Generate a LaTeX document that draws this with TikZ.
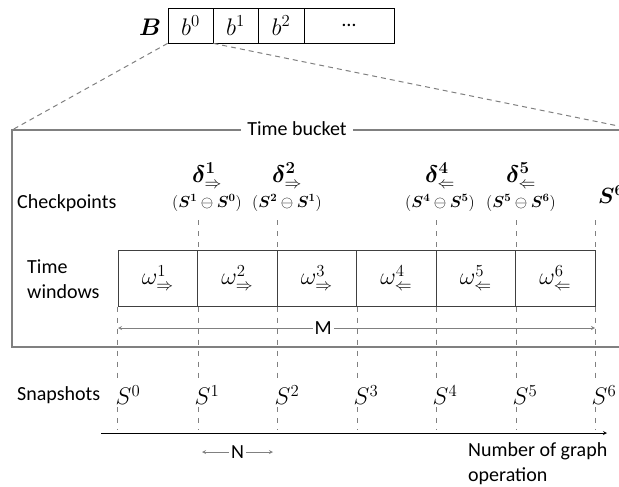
\documentclass[tikz,border=0pt]{standalone}
\usepackage{fix-cm}
\usepackage{amsmath}
\usepackage{bm}
\usepackage{fontspec}
\setmainfont{Carlito}
\definecolor{linegray}{RGB}{128,128,128}
\definecolor{boxgray}{RGB}{64,64,64}
\begin{document}
\begin{tikzpicture}
[x=1pt,y=-1pt,
  every node/.style={font=\fontsize{20}{24}\selectfont},
  mathbig/.style={font=\fontsize{24}{28}\selectfont},
  bucketcell/.style={draw,line width=0.8pt,minimum height=35pt,inner sep=0pt,mathbig},
  wincell/.style={draw=boxgray,line width=1pt,minimum width=79.5pt,minimum height=56pt,inner sep=0pt,mathbig},
  zoomline/.style={linegray,line width=1pt,dash pattern=on 5pt off 4pt},
  tickline/.style={linegray,line width=0.8pt,dash pattern=on 5pt off 6pt},
  bucketline/.style={linegray,line width=1.2pt},
  spanarrow/.style={<->,>=stealth,linegray,line width=0.8pt},
  axisarrow/.style={->,>=stealth,line width=0.8pt},
  cpdecorate/.style={align=center,inner sep=1pt},
  snapdecorate/.style={inner sep=2pt,mathbig}]
\useasboundingbox (0,0) rectangle (619,487);
\clip (0,0) rectangle (619,487);
% bucket array
\node (B) at (150,27) [mathbig] {$\bm{B}$};
\node (b0) at (190.5,25.5) [bucketcell,minimum width=45pt] {$b^{0}$};
\node (b1) at (235.5,25.5) [bucketcell,minimum width=45pt] {$b^{1}$};
\node (b2) at (281,25.5) [bucketcell,minimum width=46pt] {$b^{2}$};
\node (bdots) at (349,25.5) [bucketcell,minimum width=90pt,font=\fontsize{20}{24}\selectfont] {\ldots};
% time bucket frame
\coordinate (bk-nw) at (12,130);
\coordinate (bk-se) at (638,347);
\draw[bucketline] (bk-nw) rectangle (bk-se);
\node (bucket) at (297,129) [fill=white,inner xsep=6pt,inner ysep=0pt] {Time bucket};
\draw[zoomline] (b0.south west) -- (bk-nw);
\draw[zoomline] (b0.south east) -- (bk-nw -| bk-se);
% row labels
\node (checkpoints) at (17,203) [anchor=west,inner sep=0pt] {Checkpoints};
\node (windows) at (27,279) [anchor=west,align=left,inner sep=0pt,font=\fontsize{20}{25}\selectfont] {Time\\windows};
\node (snapshots) at (17,395) [anchor=west,inner sep=0pt] {Snapshots};
% time windows
\node (w1) at (157.75,278) [wincell] {$\omega^{1}_{\Rightarrow}$};
\node (w2) at (237.25,278) [wincell] {$\omega^{2}_{\Rightarrow}$};
\node (w3) at (316.75,278) [wincell] {$\omega^{3}_{\Rightarrow}$};
\node (w4) at (396.25,278) [wincell] {$\omega^{4}_{\Leftarrow}$};
\node (w5) at (475.75,278) [wincell] {$\omega^{5}_{\Leftarrow}$};
\node (w6) at (555.25,278) [wincell] {$\omega^{6}_{\Leftarrow}$};
% checkpoints
\node (cp1) at (207,187) [cpdecorate] {{\fontsize{24}{28}\selectfont$\bm{\delta}^{\bm{1}}_{\Rightarrow}$}\\[1pt]{\fontsize{16}{18}\selectfont$(\bm{S^{1}}\ominus\bm{S^{0}})$}};
\node (cp2) at (287,187) [cpdecorate] {{\fontsize{24}{28}\selectfont$\bm{\delta}^{\bm{2}}_{\Rightarrow}$}\\[1pt]{\fontsize{16}{18}\selectfont$(\bm{S^{2}}\ominus\bm{S^{1}})$}};
\node (cp4) at (440,187) [cpdecorate] {{\fontsize{24}{28}\selectfont$\bm{\delta}^{\bm{4}}_{\Leftarrow}$}\\[1pt]{\fontsize{16}{18}\selectfont$(\bm{S^{4}}\ominus\bm{S^{5}})$}};
\node (cp5) at (521,187) [cpdecorate] {{\fontsize{24}{28}\selectfont$\bm{\delta}^{\bm{5}}_{\Leftarrow}$}\\[1pt]{\fontsize{16}{18}\selectfont$(\bm{S^{5}}\ominus\bm{S^{6}})$}};
\node (cp6) at (598,195) [anchor=west,inner sep=0pt,font=\fontsize{22}{26}\selectfont] {$\bm{S^{6}}$};
\draw[tickline] (w1.north east |- 0,220) -- (w1.north east);
\draw[tickline] (w2.north east |- 0,220) -- (w2.north east);
\draw[tickline] (w4.north east |- 0,220) -- (w4.north east);
\draw[tickline] (w5.north east |- 0,220) -- (w5.north east);
\draw[tickline] (w6.north east |- 0,220) -- (w6.north east);
% snapshots
\node (s0) at (128,395) [snapdecorate] {$S^{0}$};
\node (s1) at (207,395) [snapdecorate] {$S^{1}$};
\node (s2) at (287,395) [snapdecorate] {$S^{2}$};
\node (s3) at (366,395) [snapdecorate] {$S^{3}$};
\node (s4) at (445,395) [snapdecorate] {$S^{4}$};
\node (s5) at (525,395) [snapdecorate] {$S^{5}$};
\node (s6) at (604,395) [snapdecorate] {$S^{6}$};
% axis
\coordinate (ax-start) at (101,433);
\coordinate (ax-end) at (607,433);
\draw[axisarrow] (ax-start) -- (ax-end);
\node (axislabel) at (468,464) [anchor=west,align=left,inner sep=0pt,font=\fontsize{20}{25}\selectfont] {Number of graph\\operation};
% dashed guides
\draw[tickline] (w1.south west) -- (w1.south west |- s0.north);
\draw[tickline] (w1.south east) -- (w1.south east |- s1.north);
\draw[tickline] (w2.south east) -- (w2.south east |- s2.north);
\draw[tickline] (w3.south east) -- (w3.south east |- s3.north);
\draw[tickline] (w4.south east) -- (w4.south east |- s4.north);
\draw[tickline] (w5.south east) -- (w5.south east |- s5.north);
\draw[tickline] (w6.south east) -- (w6.south east |- s6.north);
\draw[tickline,shorten >=3pt] (w1.south west |- s0.south) -- (w1.south west |- ax-start);
\draw[tickline,shorten >=3pt] (w1.south east |- s1.south) -- (w1.south east |- ax-start);
\draw[tickline,shorten >=3pt] (w2.south east |- s2.south) -- (w2.south east |- ax-start);
\draw[tickline,shorten >=3pt] (w3.south east |- s3.south) -- (w3.south east |- ax-start);
\draw[tickline,shorten >=3pt] (w4.south east |- s4.south) -- (w4.south east |- ax-start);
\draw[tickline,shorten >=3pt] (w5.south east |- s5.south) -- (w5.south east |- ax-start);
\draw[tickline,shorten >=3pt] (w6.south east |- s6.south) -- (w6.south east |- ax-start);
% spans
\coordinate (m-left) at (118,328);
\coordinate (m-right) at (595,328);
\draw[spanarrow] (m-left) -- node[pos=0.43,fill=white,inner sep=2pt,text=black] (M) {M} (m-right);
\coordinate (n-left) at (202,452);
\coordinate (n-right) at (273,452);
\draw[spanarrow] (n-left) -- node[fill=white,inner sep=2pt,text=black] (N) {N} (n-right);
\end{tikzpicture}
\end{document}
